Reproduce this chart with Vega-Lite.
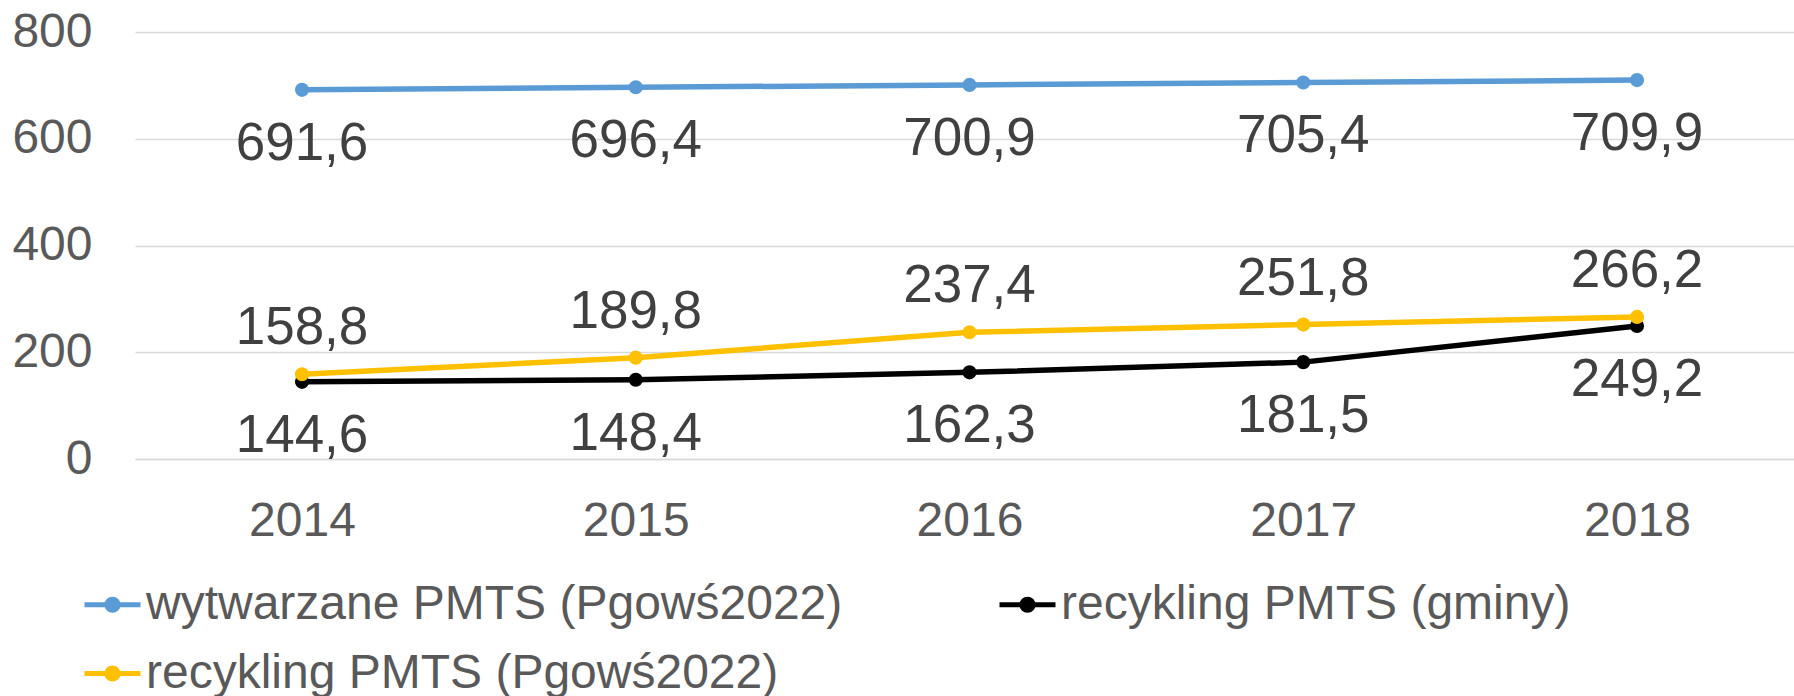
{
  "$schema": "https://vega.github.io/schema/vega-lite/v6.json",
  "width": 1659,
  "height": 427,
  "autosize": {"type": "none"},
  "padding": {"left": 135, "top": 32, "right": 0, "bottom": 237},
  "config": {
    "font": "Liberation Sans",
    "view": {"stroke": null},
    "locale": {"number": {"decimal": ",", "thousands": " ", "grouping": [3], "currency": ["", ""]}}
  },
  "data": {
    "values": [
      {"year": 2014, "series": "wytwarzane PMTS (Pgowś2022)", "value": 691.6},
      {"year": 2015, "series": "wytwarzane PMTS (Pgowś2022)", "value": 696.4},
      {"year": 2016, "series": "wytwarzane PMTS (Pgowś2022)", "value": 700.9},
      {"year": 2017, "series": "wytwarzane PMTS (Pgowś2022)", "value": 705.4},
      {"year": 2018, "series": "wytwarzane PMTS (Pgowś2022)", "value": 709.9},
      {"year": 2014, "series": "recykling PMTS (gminy)", "value": 144.6},
      {"year": 2015, "series": "recykling PMTS (gminy)", "value": 148.4},
      {"year": 2016, "series": "recykling PMTS (gminy)", "value": 162.3},
      {"year": 2017, "series": "recykling PMTS (gminy)", "value": 181.5},
      {"year": 2018, "series": "recykling PMTS (gminy)", "value": 249.2},
      {"year": 2014, "series": "recykling PMTS (Pgowś2022)", "value": 158.8},
      {"year": 2015, "series": "recykling PMTS (Pgowś2022)", "value": 189.8},
      {"year": 2016, "series": "recykling PMTS (Pgowś2022)", "value": 237.4},
      {"year": 2017, "series": "recykling PMTS (Pgowś2022)", "value": 251.8},
      {"year": 2018, "series": "recykling PMTS (Pgowś2022)", "value": 266.2}
    ]
  },
  "encoding": {
    "x": {
      "field": "year", "type": "quantitative",
      "scale": {"domain": [2013.4996, 2018.4704], "nice": false, "zero": false},
      "axis": {
        "title": null, "values": [2014, 2015, 2016, 2017, 2018], "format": "d",
        "labelAngle": 0, "labelFontSize": 48, "labelColor": "#595959",
        "labelPadding": 38, "ticks": false, "domain": true, "domainColor": "#D9D9D9",
        "domainWidth": 1.5, "grid": false, "labelFlush": false, "labelOverlap": false
      }
    },
    "y": {
      "field": "value", "type": "quantitative",
      "scale": {"domain": [0, 800], "nice": false},
      "axis": {
        "title": null, "values": [0, 200, 400, 600, 800], "labelFontSize": 48,
        "labelColor": "#595959", "labelPadding": 43, "ticks": false, "domain": false,
        "grid": true, "gridColor": "#D9D9D9", "gridWidth": 1.5
      }
    }
  },
  "layer": [
    {
      "mark": {"type": "line", "strokeWidth": 5.5, "point": {"filled": true, "size": 200}},
      "encoding": {
        "color": {
          "field": "series", "type": "nominal",
          "scale": {
            "domain": ["wytwarzane PMTS (Pgowś2022)", "recykling PMTS (gminy)", "recykling PMTS (Pgowś2022)"],
            "range": ["#5B9BD5", "#000000", "#FFC000"]
          },
          "legend": {
            "title": null, "orient": "none", "legendX": -53, "legendY": 542,
            "direction": "horizontal", "columns": 2, "columnPadding": 146, "rowPadding": 14,
            "padding": 0, "labelFontSize": 48, "labelColor": "#595959", "labelLimit": 2000,
            "labelOffset": 3, "symbolSize": 3136, "symbolStrokeWidth": 5,
            "symbolType": "M-1,0H1M0.2,0A0.2,0.2,0,1,1,-0.2,0A0.2,0.2,0,1,1,0.2,0Z",
            "encode": {
              "symbols": {"update": {
                "fill": {"scale": "color", "field": "value"},
                "stroke": {"scale": "color", "field": "value"}
              }}
            }
          }
        }
      }
    },
    {
      "transform": [{"filter": "datum.series !== 'recykling PMTS (Pgowś2022)'"}],
      "mark": {"type": "text", "fontSize": 53, "color": "#404040", "align": "center", "baseline": "alphabetic", "dy": 70},
      "encoding": {"text": {"field": "value", "type": "quantitative", "format": ".1f"}}
    },
    {
      "transform": [{"filter": "datum.series === 'recykling PMTS (Pgowś2022)'"}],
      "mark": {"type": "text", "fontSize": 53, "color": "#404040", "align": "center", "baseline": "alphabetic", "dy": -30},
      "encoding": {"text": {"field": "value", "type": "quantitative", "format": ".1f"}}
    }
  ]
}
